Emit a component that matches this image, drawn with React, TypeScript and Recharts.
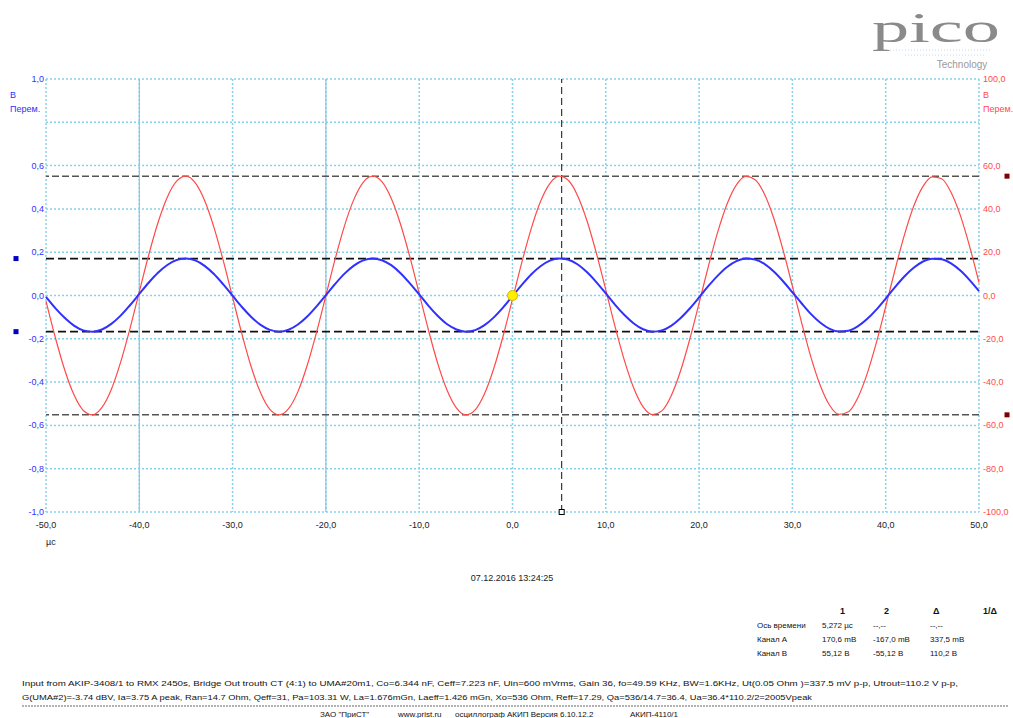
import React from 'react'
import {
  LineChart,
  Line,
  XAxis,
  YAxis,
  CartesianGrid,
  ReferenceLine,
  ReferenceDot,
} from 'recharts'

// время, мкс
const times = [
  -50, -49, -48, -47, -46, -45, -44, -43, -42, -41, -40, -39, -38, -37, -36, -35, -34, -33, -32, -31,
  -30, -29, -28, -27, -26, -25, -24, -23, -22, -21, -20, -19, -18, -17, -16, -15, -14, -13, -12, -11,
  -10, -9, -8, -7, -6, -5, -4, -3, -2, -1, 0, 1, 2, 3, 4, 5, 6, 7, 8, 9,
  10, 11, 12, 13, 14, 15, 16, 17, 18, 19, 20, 21, 22, 23, 24, 25, 26, 27, 28, 29,
  30, 31, 32, 33, 34, 35, 36, 37, 38, 39, 40, 41, 42, 43, 44, 45, 46, 47, 48, 49, 50,
]

// Канал А, В (левая шкала)
const channelA = [
  -0.006, -0.058, -0.103, -0.139, -0.161, -0.167, -0.157, -0.131, -0.093, -0.045,
  0.007, 0.059, 0.105, 0.141, 0.164, 0.171, 0.162, 0.137, 0.099, 0.051,
  -0.001, -0.053, -0.099, -0.136, -0.159, -0.167, -0.158, -0.134, -0.097, -0.05,
  0.002, 0.054, 0.101, 0.138, 0.162, 0.171, 0.163, 0.14, 0.103, 0.056,
  0.005, -0.048, -0.095, -0.133, -0.157, -0.167, -0.16, -0.137, -0.101, -0.055,
  -0.003, 0.049, 0.097, 0.135, 0.161, 0.171, 0.165, 0.143, 0.107, 0.061,
  0.01, -0.043, -0.09, -0.129, -0.156, -0.167, -0.161, -0.14, -0.105, -0.06,
  -0.009, 0.044, 0.092, 0.132, 0.159, 0.171, 0.166, 0.146, 0.111, 0.066,
  0.015, -0.037, -0.086, -0.126, -0.154, -0.166, -0.163, -0.143, -0.109, -0.065,
  -0.014, 0.039, 0.088, 0.128, 0.157, 0.17, 0.167, 0.148, 0.115, 0.071, 0.02,
]

// Канал B, В (правая шкала)
const channelB = [
  -2.6, -19.4, -34.3, -45.9, -53.1, -55.1, -51.7, -43.4, -30.8, -15.3,
  1.7, 18.6, 33.6, 45.4, 52.8, 55.1, 52.0, 43.9, 31.5, 16.1,
  -0.9, -17.8, -33.0, -44.9, -52.6, -55.1, -52.3, -44.4, -32.2, -16.9,
  0.0, 17.0, 32.3, 44.4, 52.3, 55.1, 52.6, 44.9, 32.9, 17.8,
  0.9, -16.1, -31.6, -43.9, -52.0, -55.1, -52.8, -45.4, -33.6, -18.6,
  -1.7, 15.3, 30.8, 43.4, 51.7, 55.1, 53.1, 45.9, 34.3, 19.4,
  2.6, -14.5, -30.1, -42.8, -51.4, -55.0, -53.3, -46.4, -35.0, -20.2,
  -3.5, 13.6, 29.4, 42.3, 51.1, 55.0, 53.5, 46.9, 35.7, 21.0,
  4.3, -12.8, -28.7, -41.7, -50.8, -54.9, -53.7, -47.3, -36.3, -21.8,
  -5.2, 11.9, 27.9, 41.2, 50.4, 54.8, 53.9, 47.7, 37.0, 22.6, 6.0,
]

const xTicks = [-50, -40, -30, -20, -10, 0, 10, 20, 30, 40, 50]
const leftTicks = [-1, -0.8, -0.6, -0.4, -0.2, 0, 0.2, 0.4, 0.6, 0.8, 1]
const rightTicks = [-100, -80, -60, -40, -20, 0, 20, 40, 60, 80, 100]
const solidVerticals = [-40, -20]

// курсоры
const cursorTime = 5.272
const cursorsA = [170.6, -167.0]
const cursorsB = [55.12, -55.12]

const tableHead = ['1', '2', 'Δ', '1/Δ']
const tableRows = [
  ['Ось времени', '5,272 µс', '--,--', '--,--'],
  ['Канал A', '170,6 mВ', '-167,0 mВ', '337,5 mВ'],
  ['Канал B', '55,12 В', '-55,12 В', '110,2 В'],
]

const infoLine1 =
  'Input from AKIP-3408/1 to RMX 2450s, Bridge Out trouth CT (4:1) to UMA#20m1, Co=6.344 nF, Ceff=7.223 nF, Uin=600 mVrms, Gain 36, fo=49.59 KHz, BW=1.6KHz, Ut(0.05 Ohm )=337.5 mV p-p, Utrout=110.2 V p-p,'
const infoLine2 =
  'G(UMA#2)=-3.74 dBV, Ia=3.75 A peak, Ran=14.7 Ohm, Qeff=31, Pa=103.31 W, La=1.676mGn, Laeff=1.426 mGn, Xo=536 Ohm, Reff=17.29, Qa=536/14.7=36.4, Ua=36.4*110.2/2=2005Vpeak'
const footer = ['ЗАО "ПриСТ"', 'www.prist.ru', 'осциллограф АКИП Версия 6.10.12.2', 'АКИП-4110/1']

const rows = times.map((t, i) => ({ t, a: channelA[i], b: channelB[i] }))

const FONT = '"Liberation Sans", Arial, sans-serif'
const BLUE = '#3030ff'
const RED = '#ff4a4a'

const comma = (v: number) => v.toFixed(1).replace('.', ',')

function LeftTick({ x, y, payload }: any) {
  if (Math.abs(payload.value - 0.8) < 1e-6) return <g />
  return (
    <text x={x} y={y + 3} textAnchor="end" fontSize={9} fill={BLUE} fontFamily={FONT}>
      {comma(payload.value)}
    </text>
  )
}

function RightTick({ x, y, payload }: any) {
  if (payload.value === 80) return <g />
  return (
    <text x={x} y={y + 3} textAnchor="start" fontSize={9} fill={RED} fontFamily={FONT}>
      {comma(payload.value)}
    </text>
  )
}

function BottomTick({ x, y, payload }: any) {
  return (
    <text x={x} y={y + 8} textAnchor="middle" fontSize={9} fill="#222" fontFamily={FONT}>
      {comma(payload.value)}
    </text>
  )
}

function SideMarker({ viewBox, side, color }: any) {
  if (!viewBox) return null
  const cx = side === 'left' ? viewBox.x - 30 : viewBox.x + viewBox.width + 28
  return <rect x={cx - 2.5} y={viewBox.y - 2.5} width={5} height={5} fill={color} />
}

function CursorFoot({ viewBox }: any) {
  if (!viewBox) return null
  return (
    <rect
      x={viewBox.x - 2.5}
      y={viewBox.y + viewBox.height - 2.5}
      width={5}
      height={5}
      fill="#fff"
      stroke="#000"
      strokeWidth={1}
    />
  )
}

export default function App() {
  return (
    <div style={{ position: 'absolute', left: 0, top: 0, width: 1013, height: 718, background: '#fff' }}>
      <LineChart
        width={1013}
        height={718}
        data={rows}
        margin={{ top: 79, right: 0, bottom: 176, left: 0 }}
      >
        <CartesianGrid
          yAxisId="a"
          stroke="#86d2ea"
          strokeDasharray="2 2"
          strokeWidth={1.5}
          horizontalValues={leftTicks}
          verticalValues={xTicks}
        />
        {solidVerticals.map(v => (
          <ReferenceLine key={v} x={v} yAxisId="a" stroke="#8cc8de" strokeWidth={1.2} />
        ))}
        <XAxis
          dataKey="t"
          type="number"
          domain={[-50, 50]}
          ticks={xTicks}
          axisLine={false}
          tickLine={false}
          tick={<BottomTick />}
          height={30}
          interval={0}
        />
        <YAxis
          yAxisId="a"
          domain={[-1, 1]}
          ticks={leftTicks}
          axisLine={false}
          tickLine={false}
          tickSize={0}
          tickMargin={2}
          width={46}
          interval={0}
          tick={<LeftTick />}
        />
        <YAxis
          yAxisId="b"
          orientation="right"
          domain={[-100, 100]}
          ticks={rightTicks}
          axisLine={false}
          tickLine={false}
          tickSize={0}
          tickMargin={4}
          width={34}
          interval={0}
          tick={<RightTick />}
        />
        {cursorsB.map(v => (
          <ReferenceLine
            key={'b' + v}
            yAxisId="b"
            y={v}
            stroke="#555"
            strokeWidth={1.5}
            strokeDasharray="7 3"
            label={<SideMarker side="right" color="#800000" />}
          />
        ))}
        {cursorsA.map(v => (
          <ReferenceLine
            key={'a' + v}
            yAxisId="a"
            y={v / 1000}
            stroke="#111"
            strokeWidth={1.8}
            strokeDasharray="8 4"
            label={<SideMarker side="left" color="#0000c0" />}
          />
        ))}
        <ReferenceLine
          yAxisId="a"
          x={cursorTime}
          stroke="#111"
          strokeWidth={1}
          strokeDasharray="7 4"
          label={<CursorFoot />}
        />
        <Line
          yAxisId="b"
          type="monotone"
          dataKey="b"
          stroke={RED}
          strokeWidth={1.2}
          dot={false}
          isAnimationActive={false}
        />
        <Line
          yAxisId="a"
          type="monotone"
          dataKey="a"
          stroke={BLUE}
          strokeWidth={2}
          dot={false}
          isAnimationActive={false}
        />
        <ReferenceDot yAxisId="a" x={0} y={0} r={5} fill="#ffee00" stroke="#d0b800" strokeWidth={1} />
      </LineChart>

      <svg
        width={1013}
        height={718}
        style={{ position: 'absolute', left: 0, top: 0, pointerEvents: 'none' }}
        fontFamily={FONT}
      >
        {/* логотип */}
        <text
          x={872}
          y={42}
          fontSize={42}
          fontFamily='"Liberation Serif", serif'
          fill="#8a8a8a"
          textLength={128}
          lengthAdjust="spacingAndGlyphs"
        >
          pico
        </text>
        <line x1={890} x2={990} y1={50} y2={50} stroke="#c8d8f0" strokeDasharray="1 2" />
        <line x1={905} x2={985} y1={55} y2={55} stroke="#c8d8f0" strokeDasharray="1 2" />
        <text x={962} y={68} textAnchor="middle" fontSize={10} fill="#999">
          Technology
        </text>

        {/* подписи осей */}
        <text x={10} y={98} fontSize={9} fill={BLUE}>В</text>
        <text x={10} y={112} fontSize={9} fill={BLUE}>Перем.</text>
        <text x={983} y={98} fontSize={9} fill={RED}>В</text>
        <text x={983} y={112} fontSize={9} fill={RED}>Перем.</text>
        <text x={46} y={545} fontSize={9} fill="#222">µс</text>

        <text x={512} y={581} textAnchor="middle" fontSize={9} fill="#222">07.12.2016 13:24:25</text>

        {/* таблица курсоров */}
        {tableHead.map((h, i) => (
          <text key={h} x={[840, 884, 933, 983][i]} y={614} fontSize={9} fontWeight="bold" fill="#111">
            {h}
          </text>
        ))}
        {tableRows.map((r, j) =>
          r.map((c, i) => (
            <text key={j + '-' + i} x={[757, 822, 873, 930][i]} y={628 + j * 14} fontSize={8} fill="#111">
              {c}
            </text>
          ))
        )}

        <text x={22} y={686} fontSize={8} fill="#111" textLength={936} lengthAdjust="spacingAndGlyphs">
          {infoLine1}
        </text>
        <text x={22} y={700} fontSize={8} fill="#111" textLength={790} lengthAdjust="spacingAndGlyphs">
          {infoLine2}
        </text>
        <line x1={22} x2={1008} y1={706} y2={706} stroke="#666" strokeDasharray="2 1" />
        {footer.map((f, i) => (
          <text key={f} x={[320, 398, 455, 630][i]} y={717} fontSize={8} fill="#111">
            {f}
          </text>
        ))}
      </svg>
    </div>
  )
}
